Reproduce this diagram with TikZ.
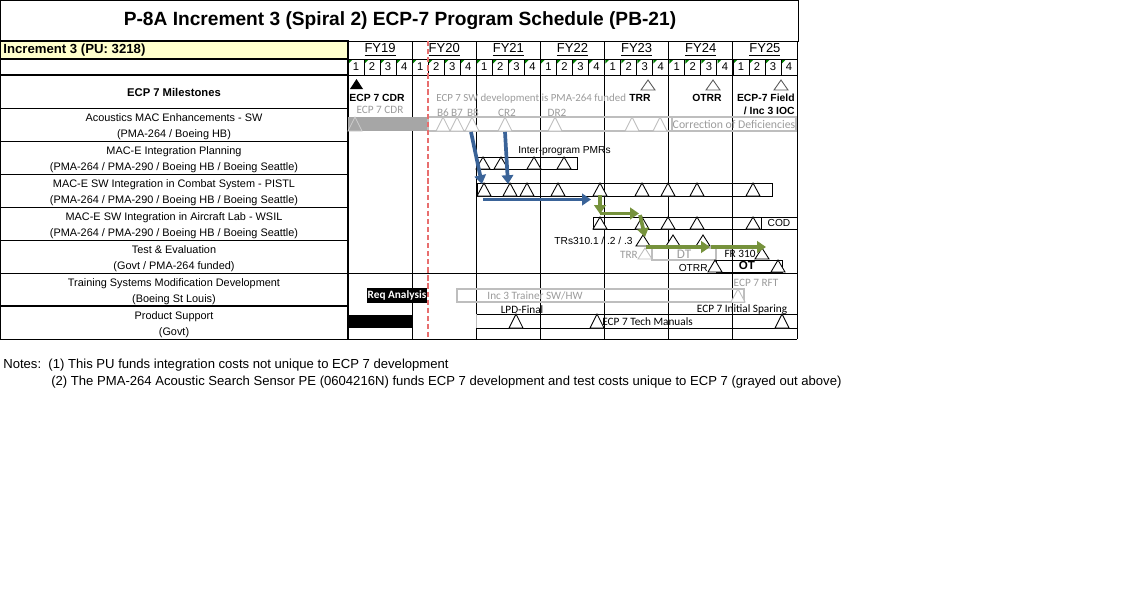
\documentclass[tikz,border=0pt]{standalone}
\usepackage{fontspec}
\setmainfont{Liberation Sans}
\newfontfamily\calib{Carlito}
\usepackage{tikz}
\usetikzlibrary{arrows.meta}
\usepackage{xcolor}
\definecolor{hdryellow}{RGB}{255,255,204}
\definecolor{bargray}{RGB}{166,166,166}
\definecolor{linegray}{RGB}{190,190,190}
\definecolor{txtgray}{RGB}{155,155,155}
\definecolor{pmrblue}{RGB}{58,99,152}
\definecolor{testgreen}{RGB}{118,146,60}
\definecolor{nowred}{RGB}{232,110,110}
\definecolor{flaggreen}{RGB}{0,128,0}

\tikzset{
  rowlbl/.style={font=\fontsize{6.2}{9.4}\selectfont,align=center,inner sep=0pt},
  gtxt/.style={text=txtgray,font=\calib\fontsize{6.4}{7}\selectfont,inner sep=0pt},
  btxt/.style={font=\fontsize{5.8}{7}\selectfont,inner sep=0pt},
  ctxt/.style={font=\calib\fontsize{6.4}{7}\selectfont,inner sep=0pt},
  mstxt/.style={font=\bfseries\fontsize{5.9}{7.4}\selectfont,inner sep=0pt},
  flow/.style={line width=2.1pt,-{Triangle[length=5pt,width=6.5pt]}},
  thin/.style={line width=0.5pt},
  heavy/.style={line width=1.2pt}
}
% milestone triangle: [style]{x}{top}{bottom}
\newcommand{\tri}[4][black]{\draw[#1,fill=white,line width=0.5pt] (#2-7,#4) -- (#2,#3) -- (#2+7,#4) -- cycle;}

\begin{document}
\begin{tikzpicture}[x=0.02cm,y=-0.02cm]
  \useasboundingbox (0,0) rectangle (1138,595);

  % title and header
  \draw[thin] (0.3,0.3) rectangle (798,41);
  \node (title) at (400,21) {\bfseries\fontsize{10.9}{12}\selectfont P-8A Increment 3 (Spiral 2) ECP-7 Program Schedule (PB-21)};
  \fill[hdryellow] (0,41) rectangle (348,59);
  \node[anchor=west,inner sep=0pt] (inc) at (3,50) {\bfseries\fontsize{7.5}{9}\selectfont Increment 3 (PU: 3218)};

  \foreach \n [count=\i from 0] in {19,...,25}
    \node[inner sep=0pt] (fy\n) at ({348+64.14*\i+32.07},50) {\fontsize{7.4}{9}\selectfont\underline{FY\n}};
  \foreach \q in {0,...,27}{
    \pgfmathtruncatemacro{\qn}{mod(\q,4)+1}
    \node[inner sep=0pt] (q\q) at ({348+16.04*\q+8},67) {\fontsize{6.4}{8}\selectfont\qn};
    \fill[flaggreen] ({348+16.04*\q+0.6},59.6) -- ({348+16.04*\q+4.6},59.6) -- ({348+16.04*\q+0.6},63.6) -- cycle;
  }

  % grid
  \draw[heavy] (0.3,41) rectangle (348,59);
  \draw[heavy] (0.3,59) rectangle (348,75);
  \draw[heavy] (0.3,75) -- (0.3,339);
  \draw[heavy] (348,41) -- (348,339);
  \draw[thin] (348,41) -- (797,41) (348,59) -- (797,59) (348,75) -- (797,75);
  \foreach \yy in {108,141,174,207,240,273}
    \draw[thin] (0,\yy) -- (348,\yy);
  \draw[heavy] (0,306) -- (348,306);
  \draw[thin] (348,273) -- (797,273);
  \draw[thin] (0,339) -- (797,339);
  \foreach \i in {1,...,6}
    \draw[thin] ({348+64.14*\i},41) -- ({348+64.14*\i},339);
  \foreach \q in {1,...,27}
    \draw[thin] ({348+16.04*\q},59) -- ({348+16.04*\q},75);
  \draw[thin] (797,41) -- (797,339);

  % row labels
  \node[font=\bfseries\fontsize{6.4}{8}\selectfont] (msl) at (174,92) {ECP 7 Milestones};
  \node[rowlbl] (r1) at (174,126.5) {Acoustics MAC Enhancements - SW\\(PMA-264 / Boeing HB)};
  \node[rowlbl] (r2) at (174,159.5) {MAC-E Integration Planning\\(PMA-264 / PMA-290 / Boeing HB / Boeing Seattle)};
  \node[rowlbl] (r3) at (174,192.5) {MAC-E SW Integration in Combat System - PISTL\\(PMA-264 / PMA-290 / Boeing HB / Boeing Seattle)};
  \node[rowlbl] (r4) at (174,225.5) {MAC-E SW Integration in Aircraft Lab - WSIL\\(PMA-264 / PMA-290 / Boeing HB / Boeing Seattle)};
  \node[rowlbl] (r5) at (174,258.5) {Test \& Evaluation\\(Govt / PMA-264 funded)};
  \node[rowlbl] (r6) at (174,291.5) {Training Systems Modification Development\\(Boeing St Louis)};
  \node[rowlbl] (r7) at (174,324.5) {Product Support\\(Govt)};

  % milestones
  \fill (350,89) -- (356.5,79) -- (363,89) -- cycle;
  \node[mstxt,anchor=west] (cdr) at (349,98) {ECP 7 CDR};
  \node[gtxt] (cdrg) at (380,110) {ECP 7 CDR};
  \node[gtxt,anchor=west,font=\calib\fontsize{6.2}{7}\selectfont] (swdev) at (436,99) {ECP 7 SW development is PMA-264 funded};
  \tri[black!65]{648}{80}{90}
  \node[mstxt] (trr) at (640,98) {TRR};
  \tri[black!65]{713}{80}{90}
  \node[mstxt] (otrr) at (707,98) {OTRR};
  \tri[black!65]{781}{80}{90}
  \node[mstxt,anchor=east] (ioca) at (795,98) {ECP-7 Field};
  \node[mstxt,anchor=east] (iocb) at (795,111) {/ Inc 3 IOC};

  % acoustics MAC enhancements
  \fill[bargray] (348,117) rectangle (428,131);
  \draw[linegray,line width=0.8pt] (428,117) rectangle (796,131);
  \draw[linegray,line width=0.8pt] (672,117) -- (672,131);
  \node[gtxt,font=\calib\fontsize{6.7}{8}\selectfont] (cod) at (734,124) {Correction of Deficiencies};
  \draw[white!80!black,fill=bargray,line width=0.5pt] (348,131) -- (355,117) -- (362,131) -- cycle;
  \foreach \x in {443,457,472,505,555,632,660}{
    \tri[linegray]{\x}{117}{131}
  }
  \node[gtxt] (b6) at (443,113) {B6};
  \node[gtxt] (b7) at (457,113) {B7};
  \node[gtxt] (b8) at (473,113) {B8};
  \node[gtxt] (cr2) at (507,113) {CR2};
  \node[gtxt] (dr2) at (557,113) {DR2};

  % integration planning
  \draw[thin] (477,157) rectangle (577,169);
  \foreach \x in {483,501,534,564}{
    \tri{\x}{157}{169}
  }
  \node[btxt,anchor=west] (pmr) at (518,151) {Inter-program PMRs};

  % combat system PISTL
  \draw[thin] (477,183) rectangle (772,196);
  \foreach \x in {484,510,527,558,600,642,668,697,753}{
    \tri{\x}{183}{196}
  }

  % aircraft lab WSIL
  \draw[thin] (593,217) rectangle (797,229);
  \draw[thin] (761,217) -- (761,229);
  \node[btxt] (codw) at (779,223) {COD};
  \foreach \x in {600,642,668,697,753}{
    \tri{\x}{217}{229}
  }

  % test and evaluation
  \node[btxt,anchor=east] (trs) at (633,241) {TRs310.1 / .2 / .3};
  \foreach \x in {643,673,703}{
    \tri{\x}{235}{246}
  }
  \node[gtxt] (trrg) at (629,255) {TRR};
  \tri[linegray]{645}{248}{259}
  \draw[linegray,line width=0.8pt] (652,248) rectangle (716,260);
  \node[gtxt,font=\calib\fontsize{7.5}{9}\selectfont] (dt) at (684,254) {DT};
  \node[ctxt] (fr) at (740,254) {FR 310};
  \tri{762}{248}{259}
  \draw[thin] (716,260) rectangle (782,272);
  \node[font=\bfseries\fontsize{6.6}{8}\selectfont,inner sep=0pt] (ot) at (747,266) {OT};
  \tri{715}{260}{272}
  \tri{778}{260}{272}
  \node[btxt,anchor=east] (otrrb) at (708,268) {OTRR};

  % training systems
  \node[fill=black,text=white,font=\calib\bfseries\fontsize{6.4}{7}\selectfont,inner sep=0pt,
        minimum width=60*0.02cm,minimum height=15*0.02cm] (req) at (397,295.5) {Req Analysis};
  \draw[linegray,line width=0.8pt] (457,289) rectangle (744,302);
  \node[gtxt] (trainer) at (535,295.5) {Inc 3 Trainer SW/HW};
  \tri[linegray]{738}{289}{302}
  \node[gtxt] (rft) at (756,283) {ECP 7 RFT};

  % product support
  \fill (348,315) rectangle (412,328);
  \draw[thin] (476,314) -- (797,314) (476,328) -- (797,328);
  \draw[linegray,thin] (476,314) -- (476,328);
  \foreach \x in {516,597,782}{
    \tri{\x}{314}{328}
  }
  \node[ctxt] (lpd) at (522,310) {LPD-Final};
  \node[ctxt,anchor=west] (manuals) at (602,321.5) {ECP 7 Tech Manuals};
  \node[ctxt] (sparing) at (742,310) {ECP 7 Initial Sparing};

  % status date
  \draw[nowred,line width=1pt,dash pattern=on 3pt off 1.6pt] (428,41) -- (428,339);

  % flows
  \coordinate (fromb8) at (471,132);
  \coordinate (tob8) at (482,184);
  \coordinate (fromcr2) at (505,132);
  \coordinate (tocr2) at (508,184);
  \coordinate (pistla) at (483,199.5);
  \coordinate (pistlb) at (591,199.5);
  \draw[flow,pmrblue] (fromb8) -- (tob8);
  \draw[flow,pmrblue] (fromcr2) -- (tocr2);
  \draw[flow,pmrblue] (pistla) -- (pistlb);
  \coordinate (wsila) at (600,195);
  \coordinate (wsilb) at (600,214);
  \coordinate (wsilc) at (639,213.5);
  \coordinate (tea) at (640,215);
  \coordinate (teb) at (645,237);
  \coordinate (dta) at (646,247);
  \coordinate (dtb) at (710,247);
  \coordinate (frb) at (766,247);
  \draw[flow,testgreen] (wsila) -- (wsilb);
  \draw[flow,testgreen] (600,213.5) -- (wsilc);
  \draw[flow,testgreen] (tea) -- (teb);
  \draw[flow,testgreen] (dta) -- (dtb);
  \draw[flow,testgreen] (711,247) -- (frb);

  % notes
  \node[anchor=west,inner sep=0pt,font=\fontsize{7.45}{9}\selectfont] (notea) at (3,365.5) {Notes:\ \ (1) This PU funds integration costs not unique to ECP 7 development};
  \node[anchor=west,inner sep=0pt,font=\fontsize{7.45}{9}\selectfont] (noteb) at (51,382) {(2) The PMA-264 Acoustic Search Sensor PE (0604216N) funds ECP 7 development and test costs unique to ECP 7 (grayed out above)};
\end{tikzpicture}
\end{document}
